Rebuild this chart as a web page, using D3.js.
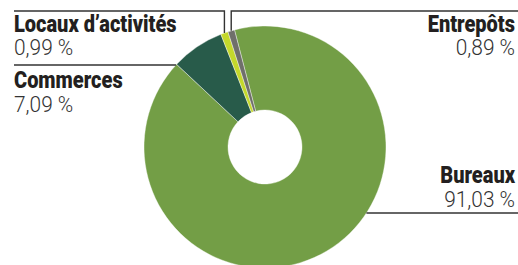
<!DOCTYPE html>
<html>
<head>
<meta charset="utf-8">
<script src="https://cdn.jsdelivr.net/npm/d3@7"></script>
<style>
  body { margin: 0; background: #fff; }
  svg { display: block; }
</style>
</head>
<body>
<div id="chart"></div>
<script>
// répartition des surfaces (%)
const categories = ["Bureaux", "Commerces", "Locaux d\u2019activités", "Entrepôts"];
const values = [91.03, 7.09, 0.99, 0.89];
const valueLabels = ["91,03 %", "7,09 %", "0,99 %", "0,89 %"];
const colors = ["#739e46", "#285b4a", "#c4d82c", "#6f6f6b"];

const width = 518, height = 265;
const cx = 265, cy = 147, outerR = 121, innerR = 37;

let data = categories.map((c, i) => ({ name: c, value: values[i], label: valueLabels[i], color: colors[i] }));

let svg = d3.select("#chart")
  .append("svg")
  .attr("width", width)
  .attr("height", height)
  .attr("viewBox", [0, 0, width, height]);

const pie = d3.pie()
  .sort(null)
  .value(d => d.value)
  .startAngle(-0.255)
  .endAngle(-0.255 + 2 * Math.PI);

const arc = d3.arc()
  .innerRadius(innerR)
  .outerRadius(outerR);

const arcs = pie(data);

let g = svg.append("g")
  .attr("transform", `translate(${cx},${cy})`);

g.selectAll("path")
  .data(arcs)
  .join("path")
  .attr("d", arc)
  .attr("fill", d => d.data.color)
  .attr("stroke", "#fff")
  .attr("stroke-width", 0.4);

// leader lines
const lineY = { "Bureaux": 213, "Commerces": 65 };
const topY = 11;
const pt = a => [cx + outerR * Math.sin(a), cy - outerR * Math.cos(a)];

function leader(d) {
  const n = d.data.name;
  if (n === "Bureaux") {
    const y = lineY[n];
    const x = cx + Math.sqrt(outerR * outerR - (y - cy) * (y - cy));
    return [[x, y], [width, y]];
  }
  if (n === "Commerces") {
    const y = lineY[n];
    const x = cx - Math.sqrt(outerR * outerR - (y - cy) * (y - cy));
    return [[14, y], [x, y]];
  }
  const mid = (d.startAngle + d.endAngle) / 2;
  const p = pt(mid);
  if (n === "Entrepôts") return [p, [p[0], topY], [width, topY]];
  return [p, [p[0], topY], [14, topY]];
}

svg.append("g")
  .selectAll("path")
  .data(arcs)
  .join("path")
  .attr("d", d => d3.line()(leader(d)))
  .attr("fill", "none")
  .attr("stroke", "#333")
  .attr("stroke-width", 1.4);

// labels
const labelPos = {
  "Locaux d\u2019activités": { x: 14, y: 31.5, anchor: "start" },
  "Commerces": { x: 14, y: 88, anchor: "start" },
  "Entrepôts": { x: 515, y: 31.5, anchor: "end" },
  "Bureaux": { x: 515, y: 183, anchor: "end" }
};

let lab = svg.append("g")
  .selectAll("g")
  .data(data)
  .join("g");

// condensed look: squeeze horizontally
lab.append("text")
  .text(d => d.name)
  .attr("transform", d => `translate(${labelPos[d.name].x},${labelPos[d.name].y}) scale(0.87,1)`)
  .attr("text-anchor", d => labelPos[d.name].anchor)
  .attr("font-family", "Roboto, 'DejaVu Sans Condensed', sans-serif")
  .attr("font-weight", 900)
  .attr("font-size", 23)
  .attr("fill", "#231f20");

lab.append("text")
  .text(d => d.label)
  .attr("transform", d => `translate(${labelPos[d.name].x},${labelPos[d.name].y + 23.5}) scale(0.95,1)`)
  .attr("text-anchor", d => labelPos[d.name].anchor)
  .attr("font-family", "Roboto, sans-serif")
  .attr("font-weight", 300)
  .attr("font-size", 22)
  .attr("fill", "#333");
</script>
</body>
</html>
